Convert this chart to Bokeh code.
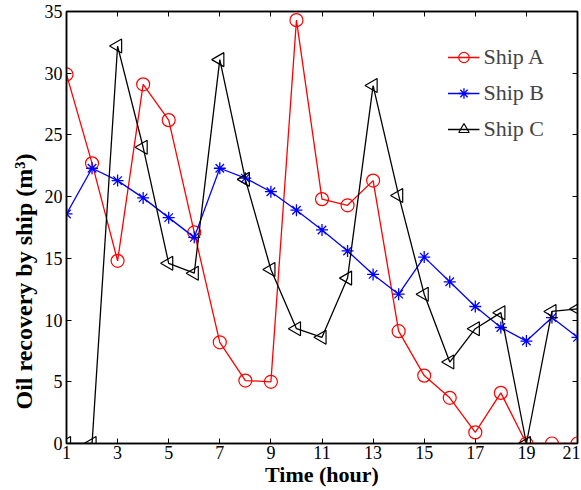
import numpy as np
from bokeh.plotting import figure
from bokeh.models import LinearAxis, FixedTicker, Range1d
from bokeh.embed import file_html
from bokeh.resources import INLINE

hours = list(range(1, 22))
ship_a = [29.9, 22.7, 14.8, 29.1, 26.2, 17.1, 8.2, 5.1, 5.0, 34.3, 19.8,
          19.3, 21.3, 9.1, 5.5, 3.7, 0.9, 4.1, 0.0, 0.0, 0.0]
ship_b = [18.6, 22.3, 21.3, 19.9, 18.3, 16.7, 22.3, 21.5, 20.4, 18.9, 17.3,
          15.6, 13.7, 12.1, 15.1, 13.1, 11.1, 9.4, 8.3, 10.2, 8.6]
ship_c = [0.0, 0.0, 32.2, 24.0, 14.6, 13.8, 31.1, 21.4, 14.1, 9.3, 8.6,
          13.4, 29.0, 20.1, 12.1, 6.6, 9.3, 10.6, 0.0, 10.7, 10.9]
x_ticks = list(range(1, 22, 2))
y_ticks = list(range(0, 36, 5))

FONT = "Liberation Serif"

p = figure(width=580, height=489, output_backend="svg", toolbar_location=None,
           x_range=Range1d(1, 21), y_range=Range1d(0, 35),
           min_border_left=66, min_border_right=3, min_border_top=11, min_border_bottom=46)
p.grid.visible = False
p.background_fill_color = "white"
p.border_fill_color = "white"
p.outline_line_color = "black"
p.outline_line_width = 1.5

for ax in [p.xaxis[0], p.yaxis[0]]:
    ax.major_tick_in = 5
    ax.major_tick_out = 0
    ax.minor_tick_in = 0
    ax.minor_tick_out = 0
    ax.axis_line_width = 1.5
    ax.major_label_text_font = FONT
    ax.major_label_text_font_size = "18px"
    ax.major_label_text_color = "black"
    ax.axis_label_text_font = FONT
    ax.axis_label_text_font_size = "22px"
    ax.axis_label_text_font_style = "bold"
    ax.axis_label_text_color = "black"

p.xaxis[0].ticker = FixedTicker(ticks=x_ticks)
p.yaxis[0].ticker = FixedTicker(ticks=y_ticks)
p.xaxis[0].axis_label = "Time (hour)"
p.yaxis[0].axis_label = "Oil recovery by ship (m³)" + "\u00a0" * 18
p.yaxis[0].axis_label_text_font_size = "24px"
p.xaxis[0].major_label_standoff = 2
p.xaxis[0].axis_label_standoff = 0
p.yaxis[0].major_label_standoff = 4
p.yaxis[0].axis_label_standoff = 5

top = LinearAxis(ticker=FixedTicker(ticks=x_ticks), major_tick_in=5, major_tick_out=0,
                 minor_tick_in=0, minor_tick_out=0,
                 major_label_overrides={t: "" for t in x_ticks},
                 major_label_standoff=0, axis_line_width=1.5)
right = LinearAxis(ticker=FixedTicker(ticks=y_ticks), major_tick_in=5, major_tick_out=0,
                   minor_tick_in=0, minor_tick_out=0,
                   major_label_overrides={t: "" for t in y_ticks},
                   major_label_standoff=0, axis_line_width=1.5)
p.add_layout(top, "above")
p.add_layout(right, "right")

p.line(hours, ship_a, color="red", line_width=1.3, legend_label="Ship A")
p.scatter(hours, ship_a, marker="circle", size=13, fill_color=None,
          line_color="red", line_width=1.2, legend_label="Ship A")

p.line(hours, ship_b, color="blue", line_width=1.3, legend_label="Ship B")
p.scatter(hours, ship_b, marker="asterisk", size=12, line_color="blue",
          line_width=1.3, legend_label="Ship B")

p.line(hours, ship_c, color="black", line_width=1.3, legend_label="Ship C")
p.scatter(hours, ship_c, marker="triangle", size=14, angle=np.pi / 2, fill_color=None,
          line_color="black", line_width=1.2, legend_label="Ship C")

p.legend.location = "top_right"
p.legend.border_line_color = None
p.legend.background_fill_alpha = 0
p.legend.label_text_font = FONT
p.legend.label_text_font_size = "22px"
p.legend.label_height = 26
p.legend.glyph_height = 26
p.legend.glyph_width = 32
p.legend.spacing = 10
p.legend.margin = 33
p.legend.padding = 4
p.legend.label_standoff = 4

open("out.html", "w").write(file_html(p, INLINE))
